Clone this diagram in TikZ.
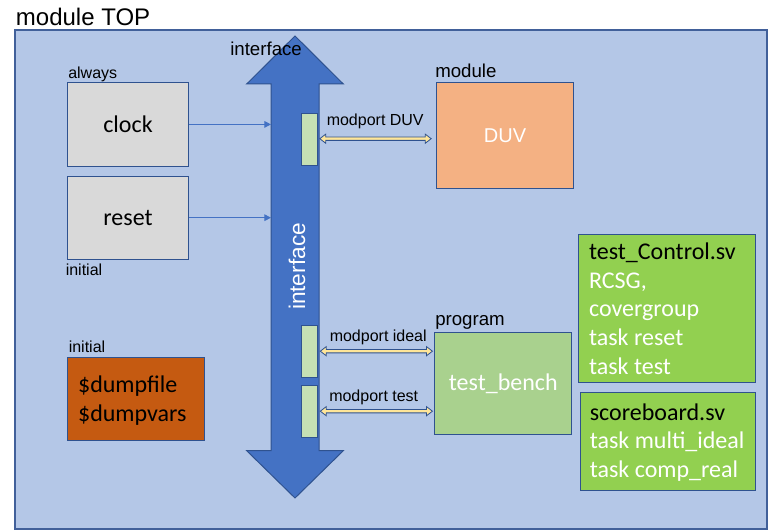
\documentclass[tikz,border=0pt]{standalone}
\usepackage{fontspec}
\setmainfont{Liberation Sans}
\newfontfamily\calfont{Carlito}
\usetikzlibrary{arrows.meta,calc}
\definecolor{bgblue}{HTML}{B4C7E7}
\definecolor{frameblue}{HTML}{41609A}
\definecolor{edgeblue}{HTML}{2F528F}
\definecolor{shaftblue}{HTML}{4472C4}
\definecolor{portgreen}{HTML}{C5E0B4}
\definecolor{duvorange}{HTML}{F4B183}
\definecolor{tbgreen}{HTML}{A9D18E}
\definecolor{clockgray}{HTML}{D9D9D9}
\definecolor{dumpbrown}{HTML}{C55A11}
\definecolor{svgreen}{HTML}{92D050}
\definecolor{fatyellow}{HTML}{FFE699}
\newcommand\fatarrow[2]{%
  \draw[fatarrowstyle] (#1) -- ($(#1)+(6,-4.6)$) -- ($(#1)+(6,-1.7)$) -- ($(#2)+(-6,-1.7)$) -- ($(#2)+(-6,-4.6)$) -- (#2)
   -- ($(#2)+(-6,4.6)$) -- ($(#2)+(-6,1.7)$) -- ($(#1)+(6,1.7)$) -- ($(#1)+(6,4.6)$) -- cycle;}
\begin{document}
\begin{tikzpicture}[x=0.75pt,y=-0.75pt,
  box/.style={draw=edgeblue, line width=0.75pt, inner sep=0pt},
  sz/.style 2 args={minimum width=#1*0.75pt, minimum height=#2*0.75pt},
  lbl/.style={anchor=base west, inner sep=0pt, font=\fontsize{12}{14}\selectfont},
  biglbl/.style={anchor=base west, inner sep=0pt, font=\fontsize{14}{16}\selectfont},
  caltext/.style={font=\calfont\fontsize{18}{21.4}\selectfont},
  listtext/.style={anchor=west, inner sep=0pt, align=left, caltext},
  fatarrowstyle/.style={draw=edgeblue, line width=0.6pt, fill=fatyellow, line join=miter},
  thinarrow/.style={draw=shaftblue, line width=0.75pt, -{Triangle[length=5pt,width=5pt]}}]
\useasboundingbox (0,0) rectangle (769,531);
% outer module
\node[anchor=base west, inner sep=0pt, font=\fontsize{18}{20}\selectfont] (toplbl) at (15.7,26) {module TOP};
\draw[fill=bgblue, draw=frameblue, line width=1pt] (15,30) rectangle (767,529);
% interface shaft
\draw[fill=shaftblue, draw=edgeblue, line width=0.75pt]
  (271,84) -- (246.7,84) -- (295,36) -- (343.3,84) -- (319,84) -- (319,450.7) -- (343.3,450.7)
  -- (295,498) -- (246.7,450.7) -- (271,450.7) -- cycle;
\coordinate (shaftL) at (271,84);
\node[biglbl] (iflbl) at (230,56) {interface};
\node[inner sep=0pt, rotate=90, text=white, font=\fontsize{17}{19}\selectfont] (ifrot) at (297,266.5) {interface};
% modport rectangles
\node[box, fill=portgreen, sz={15.6}{52.4}] (mp1) at (309.5,139.5) {};
\node[box, fill=portgreen, sz={15.6}{52.3}] (mp2) at (309.5,351.2) {};
\node[box, fill=portgreen, sz={15.6}{52}] (mp3) at (309.5,411.7) {};
% left boxes
\node[box, fill=clockgray, sz={121.4}{83.3}, caltext] (clock) at (128,124.4) {clock};
\node[box, fill=clockgray, sz={121.4}{83.3}, caltext] (reset) at (128,217.7) {reset};
\node[lbl] (always) at (68,78.5) {always};
\node[lbl] (init1) at (65.5,276) {initial};
\node[lbl] (init2) at (68.5,352.7) {initial};
\node[box, fill=dumpbrown, sz={136.7}{83}] (dump) at (135.7,399.2) {};
\node[listtext] (dumptext) at ($(dump.west)+(11,1.5)$) {\$dumpfile\\\$dumpvars};
% DUV and test bench
\node[box, fill=duvorange, sz={136.6}{105.6}, text=white, font=\fontsize{15}{17}\selectfont] (duv) at (505,135.5) {DUV};
\node[biglbl] (modlbl) at (435,77.3) {module};
\node[box, fill=tbgreen, sz={136.7}{102}, text=white, caltext] (tb) at (503.3,383.3) {test\_bench};
\node[biglbl] (proglbl) at (435,326) {program};
% right list boxes
\node[box, fill=svgreen, sz={177.4}{148.3}] (ctrl) at (667,308.2) {};
\node[listtext, text=white] (ctrltext) at ($(ctrl.west)+(11,0.5)$)
  {\textcolor{black}{test\_Control.sv}\\RCSG,\\covergroup\\task reset\\task test};
\node[box, fill=svgreen, sz={175.7}{98}] (score) at (667.9,441.7) {};
\node[listtext, text=white] (scoretext) at ($(score.west)+(10,0.5)$)
  {\textcolor{black}{scoreboard.sv}\\task multi\_ideal\\task comp\_real};
% thin arrows into interface
\draw[thinarrow] (clock.east) -- (clock.east -| shaftL);
\draw[thinarrow] (reset.east) -- (reset.east -| shaftL);
% modport arrows
\path (mp1.east) ++(2,-0.8) coordinate (a1s);
\path (a1s -| duv.west) ++(-5,0) coordinate (a1e);
\path (mp2.east) ++(2.5,0) coordinate (a2s);
\path (a2s -| tb.west) ++(-2,0) coordinate (a2e);
\path (mp3.east) ++(2.5,-0.5) coordinate (a3s);
\path (a3s -| tb.west) ++(-2,0) coordinate (a3e);
\fatarrow{a1s}{a1e}
\fatarrow{a2s}{a2e}
\fatarrow{a3s}{a3e}
\node[lbl] (mpduv) at (326.5,125.7) {modport DUV};
\node[lbl] (mpideal) at (329.5,341.7) {modport ideal};
\node[lbl] (mptest) at (329,401.7) {modport test};
\end{tikzpicture}
\end{document}
